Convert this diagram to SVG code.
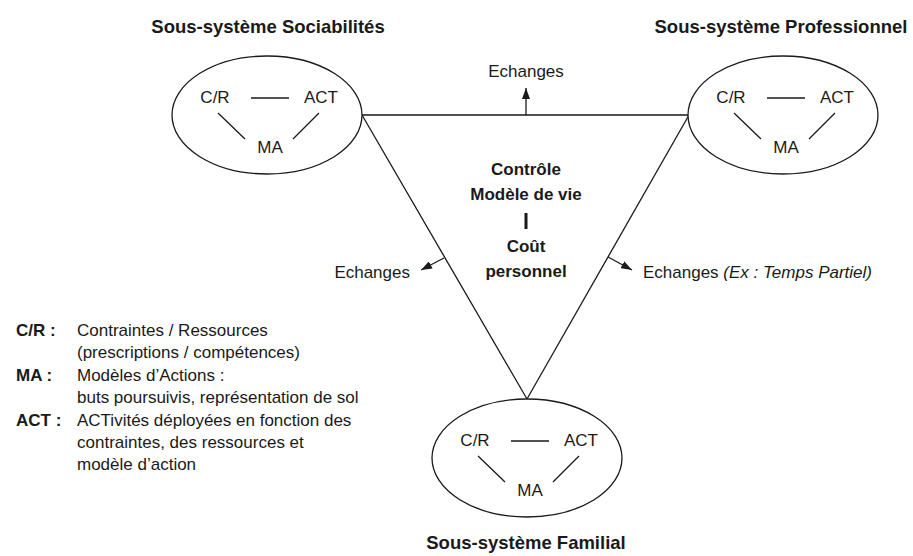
<svg xmlns="http://www.w3.org/2000/svg" width="913" height="556" viewBox="0 0 913 556">
<style>
text{font-family:"Liberation Sans",Arial,sans-serif;fill:#1a1a1a}
.t{font-size:18.5px;font-weight:bold;text-anchor:middle}
.n{font-size:17px;text-anchor:middle}
.c{font-size:17px;font-weight:bold;text-anchor:middle}
.e{font-size:17px}
.lk{font-size:17px;font-weight:bold}
.ln{stroke:#1a1a1a;stroke-width:1.3;fill:none}
.el{stroke:#1a1a1a;stroke-width:1.3;fill:#fff}
</style>
<defs>
<marker id="ah" viewBox="0 0 11 8" refX="11" refY="4" markerWidth="11" markerHeight="8" markerUnits="userSpaceOnUse" orient="auto">
<path d="M0,0 L11,4 L0,8 Z" fill="#1a1a1a"/>
</marker>
<g id="inner">
<text class="n" x="-52" y="-12">C/R</text>
<text class="n" x="54" y="-12">ACT</text>
<text class="n" x="3" y="38">MA</text>
<path class="ln" d="M-16,-17 H22 M-49,-2 L-22,24 M52,-2 L26,24"/>
</g>
</defs>
<g id="connectors">
<path class="ln" d="M362,115 H689 M362,115 L527,399 M689,115 L527,399"/>
<line class="ln" x1="526" y1="115" x2="526" y2="88" marker-end="url(#ah)"/>
<line class="ln" x1="444" y1="258" x2="421" y2="270" marker-end="url(#ah)"/>
<line class="ln" x1="608" y1="257" x2="632" y2="270" marker-end="url(#ah)"/>
<text class="e" x="526" y="77" text-anchor="middle">Echanges</text>
<text class="e" x="410" y="278" text-anchor="end">Echanges</text>
<text class="e" x="643" y="278">Echanges <tspan font-style="italic">(Ex : Temps Partiel)</tspan></text>
</g>
<g id="sociabilites">
<text class="t" x="268" y="33">Sous-système Sociabilités</text>
<ellipse class="el" cx="267" cy="115" rx="95" ry="59"/>
<use href="#inner" x="267" y="115"/>
</g>
<g id="professionnel">
<text class="t" x="781" y="33">Sous-système Professionnel</text>
<ellipse class="el" cx="783" cy="115" rx="95" ry="59"/>
<use href="#inner" x="783" y="115"/>
</g>
<g id="familial">
<ellipse class="el" cx="527" cy="458" rx="95" ry="59"/>
<use href="#inner" x="527" y="458"/>
<text class="t" x="526" y="549">Sous-système Familial</text>
</g>
<g id="centre">
<text class="c" x="526" y="175">Contrôle</text>
<text class="c" x="526" y="200">Modèle de vie</text>
<rect x="524.5" y="213" width="3" height="16" fill="#1a1a1a"/>
<text class="c" x="526" y="252">Coût</text>
<text class="c" x="526" y="277">personnel</text>
</g>
<g id="legende">
<text class="lk" x="16" y="336">C/R :</text>
<text class="e" x="77" y="336">Contraintes / Ressources</text>
<text class="e" x="77" y="358">(prescriptions / compétences)</text>
<text class="lk" x="16" y="381">MA :</text>
<text class="e" x="77" y="381">Modèles d’Actions :</text>
<text class="e" x="77" y="403">buts poursuivis, représentation de sol</text>
<text class="lk" x="16" y="426">ACT :</text>
<text class="e" x="77" y="426">ACTivités déployées en fonction des</text>
<text class="e" x="77" y="448">contraintes, des ressources et</text>
<text class="e" x="77" y="470">modèle d’action</text>
</g>
</svg>
